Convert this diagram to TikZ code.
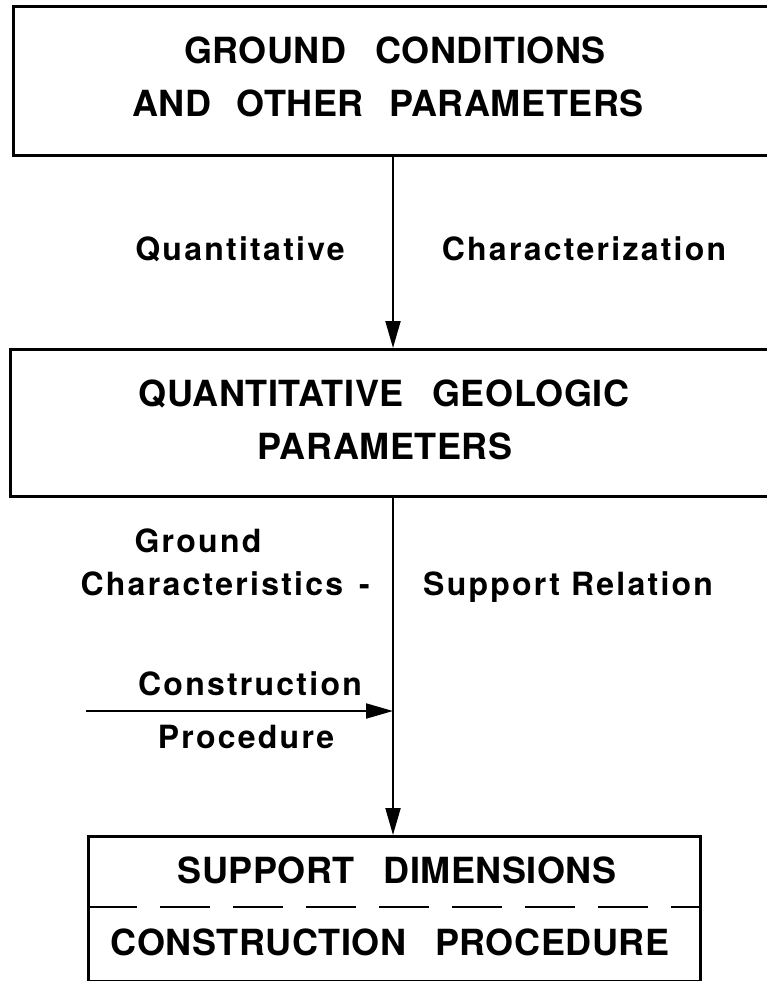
\documentclass[tikz,border=0pt]{standalone}
\usepackage{fontspec}
\usetikzlibrary{arrows.meta}
\newfontfamily\capsfont{TeX Gyre Heros}[LetterSpace=1.5]
\newfontfamily\lblfont{TeX Gyre Heros}[LetterSpace=7]
\begin{document}
\begin{tikzpicture}[x=1pt,y=-1pt,
  box/.style={draw, line width=2.6pt, inner sep=0pt},
  captxt/.style={font=\capsfont\bfseries\fontsize{36}{40}\selectfont, inner sep=0pt, anchor=base},
  lbl/.style={font=\lblfont\bfseries\fontsize{32}{38}\selectfont, inner sep=0pt, anchor=base},
  arr/.style={line width=2pt, -{Triangle[length=27pt,width=15pt]}},
  dashline/.style={line width=2pt, dash pattern=on 50pt off 23pt}]
\useasboundingbox (0,0) rectangle (767,981);
\clip (0,0) rectangle (767,981);

% boxes (the upper two run past the right edge)
\node[box, anchor=north west, minimum width=800pt, minimum height=149pt] (gc) at (12,5) {};
\node[box, anchor=north west, minimum width=800pt, minimum height=147pt] (qg) at (9,348) {};
\node[box, anchor=north west, minimum width=612pt, minimum height=145pt] (sd) at (87,835) {};
\coordinate (split) at (0,907);
\draw[dashline] (sd.west |- split) -- (sd.east |- split);

% box texts
\node[captxt] (gc1) at (395,64) {GROUND\hspace{0.8em}CONDITIONS};
\node[captxt] (gc2) at (388,117) {AND\hspace{0.7em}OTHER\hspace{0.7em}PARAMETERS};
\node[captxt] (qg1) at (384,406) {QUANTITATIVE\hspace{0.8em}GEOLOGIC};
\node[captxt] (qg2) at (385,459) {PARAMETERS};
\node[captxt] (sd1) at (397,883) {SUPPORT\hspace{0.8em}DIMENSIONS};
\node[captxt] (sd2) at (390,955) {CONSTRUCTION\hspace{0.8em}PROCEDURE};

% connectors
\coordinate (axis) at (393,0);
\coordinate (cpin) at (86,711);
\draw[arr] (gc.south -| axis) -- (qg.north -| axis);
\draw[arr] (qg.south -| axis) -- (sd.north -| axis);
\draw[arr] (cpin) -- (cpin -| axis);

% connector labels
\node[lbl] (l1) at (240,261) {Quantitative};
\node[lbl] (l2) at (584,261) {Characterization};
\node[lbl] (l3) at (198,552) {Ground};
\node[lbl, anchor=base east] (l4) at (370,595) {Characteristics\hspace{0.5em}-};
\node[lbl, anchor=base west] (l5) at (423,595) {Support Relation};
\node[lbl] (l6) at (250,695) {Construction};
\node[lbl] (l7) at (246,748) {Procedure};
\end{tikzpicture}
\end{document}
